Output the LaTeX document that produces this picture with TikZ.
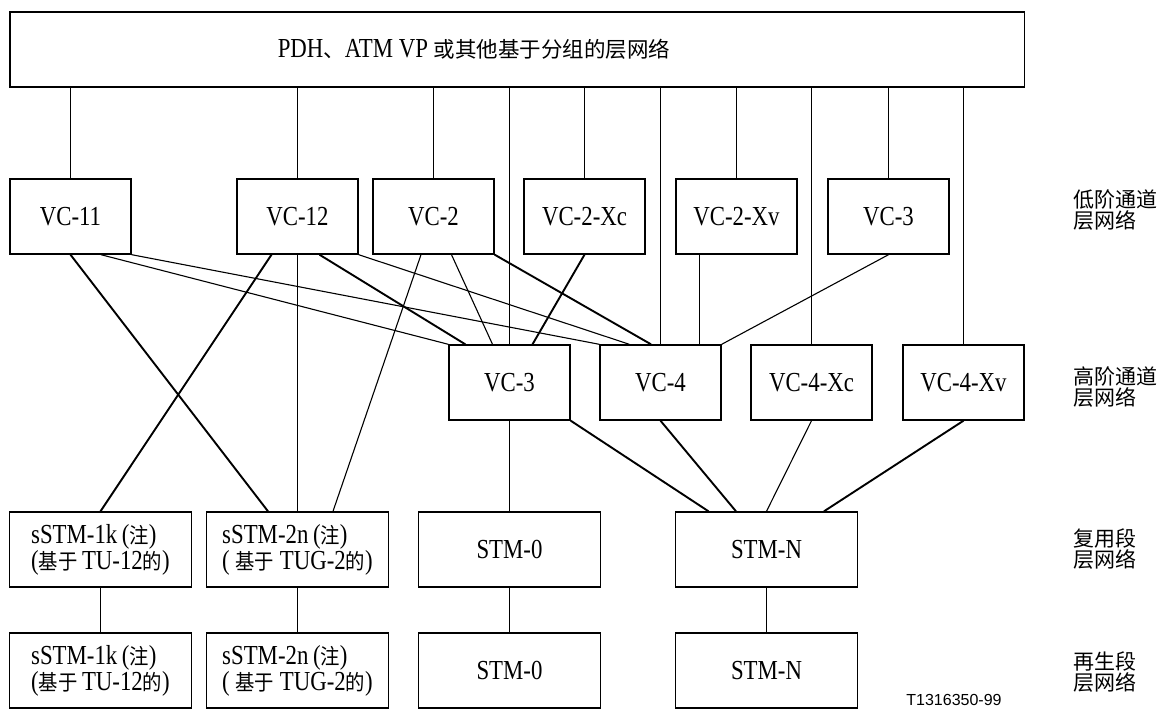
\documentclass[tikz,border=0pt]{standalone}
\usepackage{fontspec}
\setmainfont{Liberation Serif}[FakeStretch=0.83]
\newfontfamily\cjkfont{Noto Sans CJK SC}
\newfontfamily\cjknarrow{Noto Sans CJK SC}[FakeStretch=0.9]
\newfontfamily\tagfont{Liberation Sans}
\newcommand{\zw}[1]{{\cjknarrow\fontsize{21.5}{26}\selectfont #1}}
\newcommand{\zwtop}[1]{{\cjkfont\fontsize{21.5}{26}\selectfont #1}}

\begin{document}
\begin{tikzpicture}[x=1pt, y=-1pt, line width=1.1pt,
  box/.style={draw, line width=1.4pt, inner sep=0pt, minimum width=121pt,
    minimum height=75pt, font=\fontsize{27.5}{26}\selectfont},
  wide/.style={box, minimum width=181.5pt, align=left},
  thick link/.style={line width=1.9pt},
  layer/.style={anchor=west, align=left, inner sep=0pt,
    font=\cjkfont\fontsize{21}{21}\selectfont}]
  \useasboundingbox (0,0) rectangle (1164,711);
  % network layer
  \node[box, minimum width=1014.4pt] (pdh) at (517,49.5) {};
  \node[font=\fontsize{27.5}{26}\selectfont, inner sep=0pt] (pdhtext) at (474,49.5)
    {PDH\zwtop{、}ATM VP \zwtop{或其他基于分组的层网络}};
  % lower order paths
  \node[box] (lo11) at (70.5,216.5) {VC-11};
  \node[box] (lo12) at (297.5,216.5) {VC-12};
  \node[box] (lo2) at (433.5,216.5) {VC-2};
  \node[box] (lo2xc) at (584.5,216.5) {VC-2-Xc};
  \node[box] (lo2xv) at (736.5,216.5) {VC-2-Xv};
  \node[box] (lo3) at (888.5,216.5) {VC-3};
  % higher order paths
  \node[box] (ho3) at (509.5,382.5) {VC-3};
  \node[box] (ho4) at (660.5,382.5) {VC-4};
  \node[box] (ho4xc) at (811.5,382.5) {VC-4-Xc};
  \node[box] (ho4xv) at (963.5,382.5) {VC-4-Xv};
  % multiplex section
  \node[wide] (ms1k) at (100.5,549.5) {sSTM-1k\,(\zw{注})\\(\zw{基于}\,TU-12\zw{的})};
  \node[wide] (ms2n) at (297.5,549.5) {sSTM-2n\,(\zw{注})\\( \zw{基于} TUG-2\zw{的})};
  \node[wide] (ms0) at (509.5,549.5) {STM-0};
  \node[wide] (msn) at (766.5,549.5) {STM-N};
  % regenerator section
  \node[wide] (rs1k) at (100.5,670.5) {sSTM-1k\,(\zw{注})\\(\zw{基于}\,TU-12\zw{的})};
  \node[wide] (rs2n) at (297.5,670.5) {sSTM-2n\,(\zw{注})\\( \zw{基于} TUG-2\zw{的})};
  \node[wide] (rs0) at (509.5,670.5) {STM-0};
  \node[wide] (rsn) at (766.5,670.5) {STM-N};
  % layer names
  \node[layer] (lbllo) at (1073,210) {低阶通道\\层网络};
  \node[layer] (lblho) at (1073,387) {高阶通道\\层网络};
  \node[layer] (lblms) at (1073,549) {复用段\\层网络};
  \node[layer] (lblrs) at (1073,672) {再生段\\层网络};
  \node[font=\tagfont\fontsize{16}{16}\selectfont, inner sep=0pt] (tag) at (954,700) {T1316350-99};
  % links from the network layer
  \foreach \n in {lo11,lo12,lo2,ho3,lo2xc,ho4,lo2xv,ho4xc,lo3,ho4xv}
    \draw (\n.north |- pdh.south) -- (\n.north);
  % lower order to higher order and sections
  \draw[thick link] (lo11.south) -- ([xshift=-29.5pt]ms2n.north);
  \draw ([xshift=30.5pt]lo11.south) -- (ho3.north west);
  \draw (lo11.south east) -- (ho4.north west);
  \draw[thick link] ([xshift=-26pt]lo12.south) -- (ms1k.north);
  \draw (lo12.south) -- (ms2n.north);
  \draw[thick link] ([xshift=22pt]lo12.south) -- ([xshift=17pt]ho3.north west);
  \draw (lo12.south east) -- ([xshift=30pt]ho4.north west);
  \draw ([xshift=-12.5pt]lo2.south) -- ([xshift=35.5pt]ms2n.north);
  \draw ([xshift=18pt]lo2.south) -- ([xshift=-17pt]ho3.north);
  \draw[thick link] (lo2.south east) -- ([xshift=-9.5pt]ho4.north);
  \draw[thick link] (lo2xc.south) -- ([xshift=23pt]ho3.north);
  \draw ([xshift=-37pt]lo2xv.south) -- ([xshift=39pt]ho4.north);
  \draw (lo3.south) -- (ho4.north east);
  % higher order to multiplex section
  \draw (ho3.south) -- (ms0.north);
  \draw[thick link] (ho3.south east) -- ([xshift=-58pt]msn.north);
  \draw[thick link] (ho4.south) -- ([xshift=-30.5pt]msn.north);
  \draw (ho4xc.south) -- (msn.north);
  \draw[thick link] (ho4xv.south) -- ([xshift=57.5pt]msn.north);
  % multiplex to regenerator section
  \foreach \n in {1k,2n,0,n}
    \draw (ms\n.south) -- (rs\n.north);
\end{tikzpicture}
\end{document}
